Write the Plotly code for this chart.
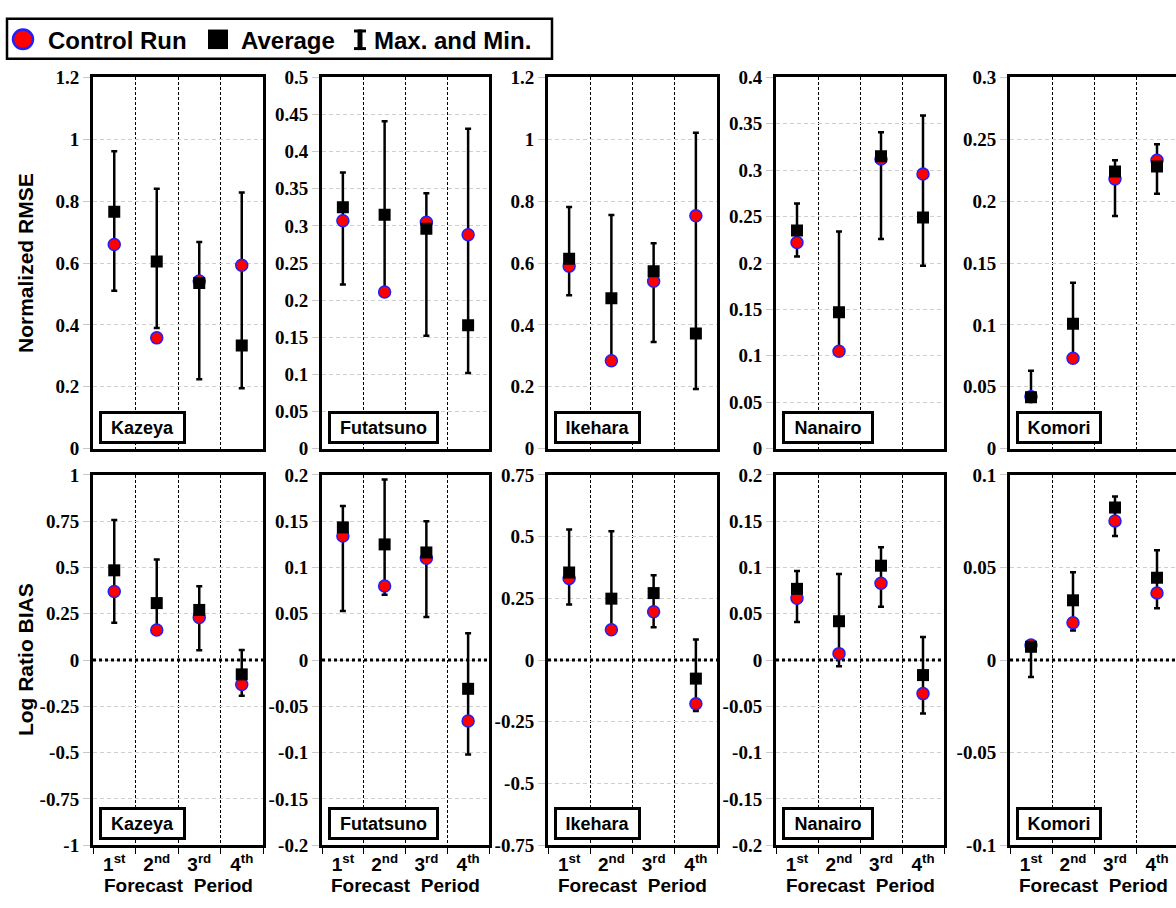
import numpy as np
import plotly.graph_objects as go

# ---------------- data ----------------
stations = ["Kazeya", "Futatsuno", "Ikehara", "Nanairo", "Komori"]
periods = [1, 2, 3, 4]
period_labels = ["<b>1<sup>st</sup></b>", "<b>2<sup>nd</sup></b>", "<b>3<sup>rd</sup></b>", "<b>4<sup>th</sup></b>"]

# Normalized RMSE (rows = stations, cols = forecast periods)
rmse_ctrl = [
    [0.660, 0.358, 0.542, 0.593],
    [0.307, 0.211, 0.305, 0.288],
    [0.590, 0.284, 0.541, 0.753],
    [0.222, 0.105, 0.312, 0.296],
    [0.042, 0.073, 0.218, 0.233],
]
rmse_avg = [
    [0.766, 0.605, 0.535, 0.333],
    [0.325, 0.315, 0.296, 0.166],
    [0.614, 0.486, 0.573, 0.372],
    [0.235, 0.147, 0.315, 0.249],
    [0.0416, 0.101, 0.224, 0.228],
]
rmse_max = [
    [0.961, 0.840, 0.668, 0.828],
    [0.372, 0.441, 0.344, 0.431],
    [0.781, 0.755, 0.664, 1.021],
    [0.264, 0.234, 0.341, 0.359],
    [0.063, 0.134, 0.233, 0.246],
]
rmse_min = [
    [0.510, 0.390, 0.224, 0.195],
    [0.221, 0.211, 0.152, 0.102],
    [0.496, 0.284, 0.345, 0.193],
    [0.207, 0.105, 0.226, 0.197],
    [0.040, 0.073, 0.188, 0.206],
]

# Log Ratio BIAS
bias_ctrl = [
    [0.371, 0.163, 0.230, -0.132],
    [0.134, 0.080, 0.110, -0.0657],
    [0.331, 0.123, 0.196, -0.177],
    [0.0668, 0.007, 0.083, -0.0362],
    [0.0081, 0.0202, 0.0752, 0.0362],
]
bias_avg = [
    [0.485, 0.308, 0.271, -0.077],
    [0.1434, 0.125, 0.1163, -0.031],
    [0.355, 0.249, 0.2715, -0.075],
    [0.077, 0.042, 0.102, -0.0162],
    [0.0072, 0.0323, 0.0824, 0.0445],
]
bias_max = [
    [0.757, 0.543, 0.399, 0.054],
    [0.1666, 0.195, 0.150, 0.029],
    [0.529, 0.522, 0.344, 0.083],
    [0.0963, 0.093, 0.122, 0.025],
    [0.0093, 0.0475, 0.0884, 0.0594],
]
bias_min = [
    [0.202, 0.163, 0.053, -0.192],
    [0.053, 0.0707, 0.0467, -0.102],
    [0.225, 0.123, 0.133, -0.206],
    [0.0411, -0.0067, 0.0576, -0.0576],
    [-0.0091, 0.016, 0.067, 0.028],
]

rmse_ranges = [(0, 1.2), (0, 0.5), (0, 1.2), (0, 0.4), (0, 0.3)]
rmse_dticks = [0.2, 0.05, 0.2, 0.05, 0.05]
bias_ranges = [(-1, 1), (-0.2, 0.2), (-0.75, 0.75), (-0.2, 0.2), (-0.1, 0.1)]
bias_dticks = [0.25, 0.05, 0.25, 0.05, 0.05]

legend_labels = ["Control Run", "Average", "Max. and Min."]
y_titles = ["Normalized RMSE", "Log Ratio BIAS"]
x_title = "Forecast  Period"

# ---------------- layout geometry ----------------
W, H = 1176, 908
col_left = [93, 322, 548, 776, 1010]
col_right = [263, 489, 717, 944, 1176]
row_top = [69, 476]
row_bot = [449, 855]
label_box_w = {"Kazeya": 84, "Futatsuno": 108, "Ikehara": 84, "Nanairo": 89, "Komori": 83}

SANS = "Liberation Sans, Arial, sans-serif"
SERIF = "Liberation Serif, Times New Roman, serif"


def fmt(v):
    v = round(float(v), 4) + 0.0
    return "%g" % v


fig = go.Figure()
layout_axes = {}
annotations = []
shapes = []

rows = [
    (rmse_ctrl, rmse_avg, rmse_max, rmse_min, rmse_ranges, rmse_dticks),
    (bias_ctrl, bias_avg, bias_max, bias_min, bias_ranges, bias_dticks),
]

for r, (ctrl, avg, mx, mn, ranges, dticks) in enumerate(rows):
    for i, st in enumerate(stations):
        n = r * 5 + i + 1
        xs = "x" if n == 1 else f"x{n}"
        ys = "y" if n == 1 else f"y{n}"
        a = avg[i]
        bottom = (r == 1)
        lo, hi = ranges[i]
        if bottom:
            # zero reference line (drawn as a line trace under the markers)
            fig.add_trace(go.Scatter(
                x=[0.5, 4.5], y=[0, 0], mode="lines",
                line=dict(color="black", width=3, dash="3px,3px"),
                xaxis=xs, yaxis=ys, showlegend=False, hoverinfo="skip"))
        # error bars (max/min)
        fig.add_trace(go.Scatter(
            x=periods, y=a, mode="markers",
            marker=dict(size=2, color="rgba(0,0,0,0)"),
            error_y=dict(type="data", symmetric=False,
                         array=[M - v for M, v in zip(mx[i], a)],
                         arrayminus=[v - m for v, m in zip(a, mn[i])],
                         color="black", thickness=2.5, width=3),
            xaxis=xs, yaxis=ys, showlegend=False, hoverinfo="skip"))
        # control run
        fig.add_trace(go.Scatter(
            x=periods, y=ctrl[i], mode="markers",
            marker=dict(symbol="circle", size=12, color="#ff0000",
                        line=dict(color="#1f1fff", width=1.5)),
            xaxis=xs, yaxis=ys, showlegend=False, name=legend_labels[0]))
        # average
        fig.add_trace(go.Scatter(
            x=periods, y=a, mode="markers",
            marker=dict(symbol="square", size=12, color="black",
                        line=dict(width=0)),
            xaxis=xs, yaxis=ys, showlegend=False, name=legend_labels[1]))

        tv = np.round(np.arange(lo, hi + dticks[i] / 2, dticks[i]), 6)
        xr_max = 4.5 if i < 4 else 0.5 + (col_right[i] - col_left[i]) / 42.0
        layout_axes["xaxis" if n == 1 else f"xaxis{n}"] = dict(
            domain=[col_left[i] / W, col_right[i] / W],
            range=[0.5, xr_max], anchor=ys,
            showline=True, linecolor="black", linewidth=3, mirror=True,
            showgrid=False, zeroline=False,
            tickmode="array", tickvals=periods, ticktext=period_labels,
            showticklabels=bottom, ticks="", ticklabelstandoff=0,
            tickfont=dict(family=SANS, size=19, color="black"),
            minor=dict(tick0=0.5, dtick=1, showgrid=True, gridcolor="black",
                       gridwidth=1, griddash="3px,2px",
                       ticks="outside" if bottom else "", ticklen=6,
                       tickcolor="black", tickwidth=1),
        )
        layout_axes["yaxis" if n == 1 else f"yaxis{n}"] = dict(
            domain=[1 - row_bot[r] / H, 1 - row_top[r] / H],
            range=[lo, hi], anchor=xs,
            showline=True, linecolor="black", linewidth=3,
            mirror=(i < 4),
            showgrid=True, gridcolor="#cfcfcf", gridwidth=1, griddash="4px,3px",
            zeroline=False,
            tickmode="array", tickvals=list(tv),
            ticktext=[f"<b>{fmt(v)}</b>" for v in tv],
            ticks="outside", ticklen=7, tickcolor="#c8c8c8", tickwidth=1,
            tickfont=dict(family=SERIF, size=19, color="black"),
        )
        # station label box
        annotations.append(dict(
            xref=f"{xs} domain", yref=f"{ys} domain", x=0, y=0,
            xanchor="left", yanchor="bottom", xshift=6, yshift=5,
            text=f"<b>{st}</b>", showarrow=False,
            font=dict(family=SANS, size=18, color="black"),
            bgcolor="white", bordercolor="black", borderwidth=3, borderpad=3,
            width=label_box_w[st] - 9, height=21, align="center"))
        if bottom:
            annotations.append(dict(
                xref=f"{xs} domain", yref="paper", x=0.5, y=1 - 896 / H,
                xanchor="center", yanchor="middle",
                text=f"<b>{x_title}</b>", showarrow=False,
                font=dict(family=SANS, size=19, color="black")))

# y-axis titles
for r in range(2):
    annotations.append(dict(
        xref="paper", yref="paper", x=25 / W, y=1 - (row_top[r] + row_bot[r]) / 2 / H,
        xanchor="center", yanchor="middle", textangle=-90,
        text=f"<b>{y_titles[r]}</b>", showarrow=False,
        font=dict(family=SANS, size=21, color="black")))


# ---------------- custom legend ----------------
def px(x):
    return x / W


def py(y):
    return 1 - y / H


shapes.append(dict(type="rect", xref="paper", yref="paper",
                   x0=px(7), x1=px(552), y0=py(50), y1=py(9),
                   line=dict(color="black", width=2.5), fillcolor="white"))
shapes.append(dict(type="circle", xref="paper", yref="paper",
                   x0=px(13), x1=px(33), y0=py(40), y1=py(20),
                   line=dict(color="#1f1fff", width=2.5), fillcolor="#ff0000"))
shapes.append(dict(type="rect", xref="paper", yref="paper",
                   x0=px(208), x1=px(228), y0=py(40), y1=py(20),
                   line=dict(width=0), fillcolor="black"))
# I-beam (error bar glyph)
shapes.append(dict(type="rect", xref="paper", yref="paper",
                   x0=px(357.5), x1=px(362.5), y0=py(41), y1=py(20),
                   line=dict(width=0), fillcolor="black"))
shapes.append(dict(type="rect", xref="paper", yref="paper",
                   x0=px(354), x1=px(366), y0=py(23), y1=py(20),
                   line=dict(width=0), fillcolor="black"))
shapes.append(dict(type="rect", xref="paper", yref="paper",
                   x0=px(354), x1=px(366), y0=py(41), y1=py(38),
                   line=dict(width=0), fillcolor="black"))
for txt, xl in zip(legend_labels, [46, 239, 372]):
    annotations.append(dict(
        xref="paper", yref="paper", x=px(xl), y=py(31),
        xanchor="left", yanchor="middle", text=f"<b>{txt}</b>", showarrow=False,
        font=dict(family=SANS, size=24, color="black")))

fig.update_layout(
    width=W, height=H, margin=dict(l=0, r=0, t=0, b=0),
    paper_bgcolor="white", plot_bgcolor="white",
    showlegend=False, annotations=annotations, shapes=shapes,
    **layout_axes)

fig.write_html("out.html")
